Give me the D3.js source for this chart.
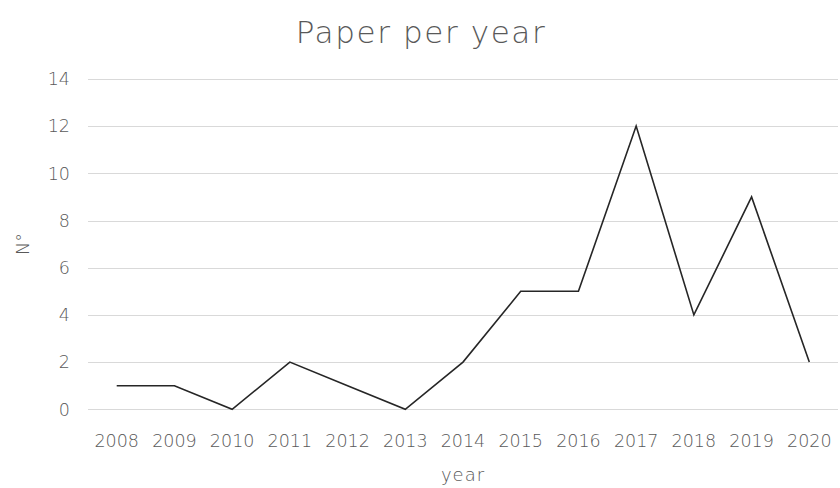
<!DOCTYPE html>
<html><head><meta charset="utf-8">
<script src="https://cdn.jsdelivr.net/npm/d3@7"></script>
<style>
html,body{margin:0;padding:0;background:#fff;}
text{font-family:"DejaVu Sans","Noto Sans",sans-serif;fill:#595959;font-weight:200;}
</style></head><body>
<svg id="c" width="840" height="488"></svg>
<script>
const years = ["2008","2009","2010","2011","2012","2013","2014","2015","2016","2017","2018","2019","2020"];
const papers = [1,1,0,2,1,0,2,5,5,12,4,9,2];
const yTicks = [0,2,4,6,8,10,12,14];
const title = "Paper per year";
const xTitle = "year";
const yTitle = "N°";

const svg = d3.select("#c");
const x = d3.scalePoint().domain(years).range([116.7, 809.3]);
const y = d3.scaleLinear().domain([0,14]).range([409.3, 78.9]);
const gx0 = 88, gx1 = 838;

svg.append("g").selectAll("line").data(yTicks).join("line")
  .attr("x1", gx0).attr("x2", gx1)
  .attr("y1", d=>Math.round(y(d))+0.5).attr("y2", d=>Math.round(y(d))+0.5)
  .attr("stroke","#d9d9d9").attr("stroke-width",1);

svg.append("g").selectAll("text").data(yTicks).join("text")
  .attr("x", 70).attr("y", d=>y(d)).attr("dy","0.36em")
  .attr("text-anchor","end").attr("font-size",17.5)
  .text(d=>d);

svg.append("g").selectAll("text").data(years).join("text")
  .attr("x", d=>x(d)).attr("y", 441).attr("dy","0.36em")
  .attr("text-anchor","middle").attr("font-size",17.5)
  .text(d=>d);

const line = d3.line().x((d,i)=>x(years[i])).y(d=>y(d));
svg.append("path").datum(papers).attr("d", line)
  .attr("fill","none").attr("stroke","#262626").attr("stroke-width",1.6)
  .attr("stroke-linejoin","miter");

svg.append("text").attr("x", 421).attr("y", 32).attr("dy","0.36em")
  .attr("text-anchor","middle").attr("font-size",31).attr("letter-spacing",1.6).text(title);
svg.append("text").attr("x", 463).attr("y", 475).attr("dy","0.36em")
  .attr("text-anchor","middle").attr("font-size",18).attr("letter-spacing",1).text(xTitle);
svg.append("text").attr("transform","translate(23,244) rotate(-90)").attr("dy","0.36em")
  .attr("text-anchor","middle").attr("font-size",17.5).text(yTitle);
</script>
</body></html>
